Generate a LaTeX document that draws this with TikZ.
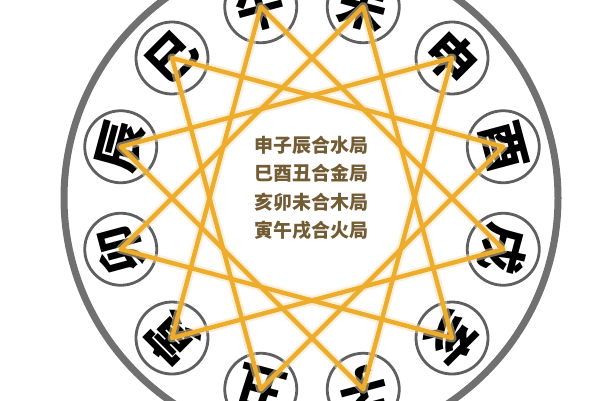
\documentclass[tikz,border=0pt]{standalone}
\usepackage{fontspec}
\newfontfamily\cjk{Noto Sans CJK SC}
\usetikzlibrary{calc}
\definecolor{ringgray}{RGB}{112,112,112}
\definecolor{circgray}{RGB}{95,95,95}
\definecolor{starorange}{RGB}{238,172,45}
\definecolor{textbrown}{RGB}{115,92,52}
\tikzset{
  outerring/.style={draw=ringgray, line width=7pt},
  branch/.style={circle, draw=circgray, line width=2.8pt, fill=white,
    minimum size=72pt, inner sep=0pt, text=black,
    font=\cjk\bfseries\fontsize{49}{49}\selectfont},
  starline/.style={draw=starorange, line width=4.4pt, line cap=round, line join=round},
  starglow/.style={draw=starorange!35, line width=9pt, line cap=round, line join=round, opacity=0.5},
  centertext/.style={text=textbrown, align=center,
    font=\cjk\bfseries\fontsize{19}{28.3}\selectfont}
}
\begin{document}
\begin{tikzpicture}[x=1pt,y=1pt]
\useasboundingbox (0,0) rectangle (600,-400);
\clip (0,0) rectangle (600,-400);
\fill[white] (0,0) rectangle (600,-400);
\coordinate (O) at (312,-198);
\draw[outerring] (311,-198) circle (247);
\foreach \n/\c/\a in {wu/午/105, wei/未/75, shen/申/45, you/酉/15, xu/戌/-15,
  hai/亥/-45, zi/子/-75, chou/丑/-105, yin/寅/-135, mao/卯/-165, chen/辰/165, si/巳/135}
  \node[branch, rotate=\a-90] (\n) at ($(O)+(\a:198)$) {\c};
\foreach \p/\q/\r in {shen/zi/chen, si/you/chou, hai/mao/wei, yin/wu/xu}
  \draw[starglow] (\p.center) -- (\q.center) -- (\r.center) -- cycle;
\foreach \p/\q/\r in {shen/zi/chen, si/you/chou, hai/mao/wei, yin/wu/xu}
  \draw[starline] (\p.center) -- (\q.center) -- (\r.center) -- cycle;
\node[centertext] (legend) at (311.5,-188) {申子辰合水局\\巳酉丑合金局\\亥卯未合木局\\寅午戌合火局};
\end{tikzpicture}
\end{document}
